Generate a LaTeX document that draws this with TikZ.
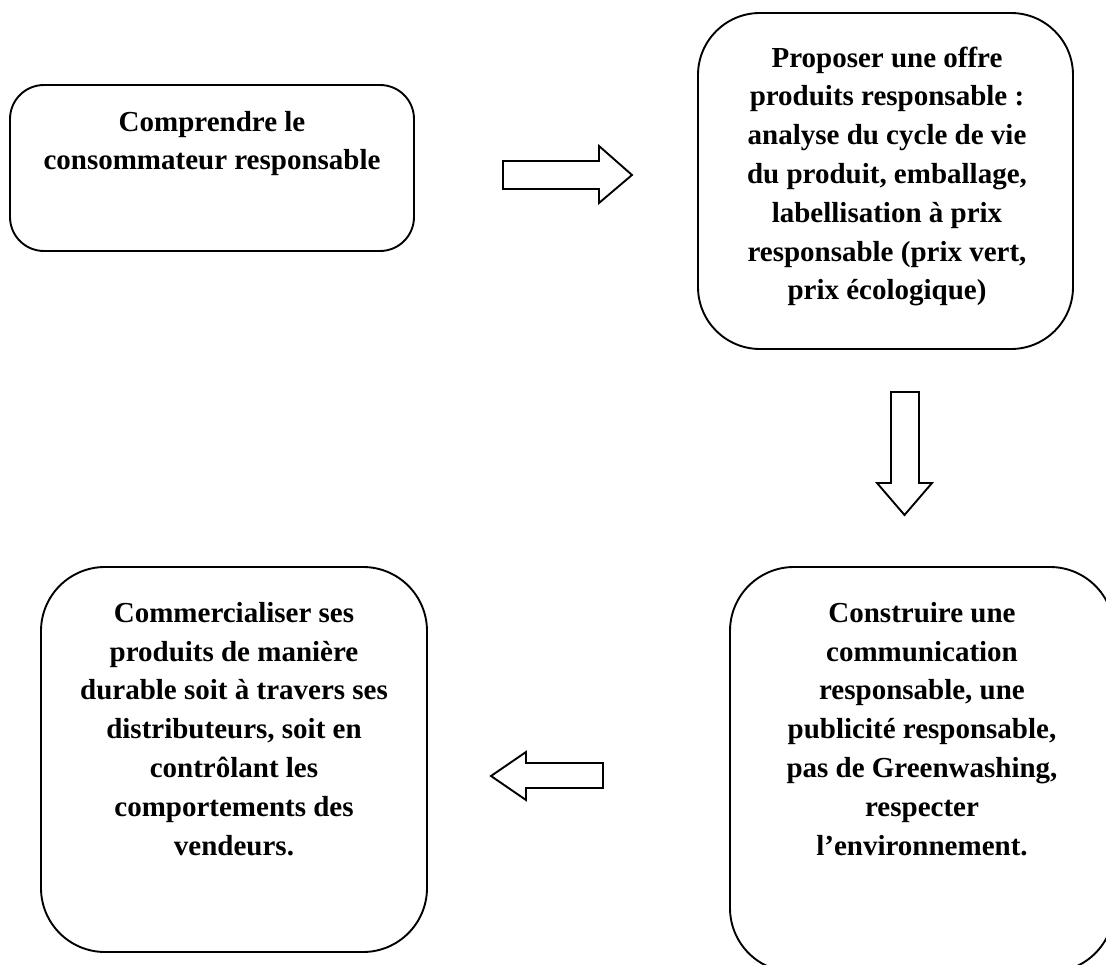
\documentclass[tikz,border=0pt]{standalone}
\usepackage{fontspec}
\setmainfont{Liberation Serif}
\begin{document}
\begin{tikzpicture}[x=1pt,y=-1pt,
  stagebox/.style={draw, line width=1.9pt, inner sep=0pt, fill=none},
  stagetext/.style={font=\fontsize{29}{38.8}\selectfont\bfseries, align=center,
    inner sep=0pt, anchor=base},
  blockarrow/.style={draw, line width=1.9pt, line join=miter, fill=white}]
\useasboundingbox (0,0) rectangle (1106,965);

% rounded frames of the four stages
\node[stagebox, rounded corners=34pt, minimum width=404pt, minimum height=166pt]
  (s1) at (212,168) {};
\node[stagebox, rounded corners=62pt, minimum width=375pt, minimum height=336pt]
  (s2) at (885.5,181) {};
\node[stagebox, rounded corners=64pt, minimum width=384pt, minimum height=405pt]
  (s3) at (922,769.5) {};
\node[stagebox, rounded corners=64pt, minimum width=386pt, minimum height=385pt]
  (s4) at (234,759.5) {};

% stage texts (anchored on the baseline of their last line)
\node[stagetext] (t1) at (212,170) {Comprendre le\\consommateur responsable};
\node[stagetext] (t2) at (887,300) {Proposer une offre\\produits responsable :\\analyse du cycle de vie\\du produit, emballage,\\labellisation à prix\\responsable (prix vert,\\prix écologique)};
\node[stagetext] (t3) at (922,855) {Construire une\\communication\\responsable, une\\publicité responsable,\\pas de Greenwashing,\\respecter\\l’environnement.};
\node[stagetext] (t4) at (234,855) {Commercialiser ses\\produits de manière\\durable soit à travers ses\\distributeurs, soit en\\contrôlant les\\comportements des\\vendeurs.};

% hollow block arrows between the stages
\draw[blockarrow] (503,161) -- (599,161) -- (599,146) -- (632,175) -- (599,203)
  -- (599,189) -- (503,189) -- cycle;
\draw[blockarrow] (891,392) -- (919,392) -- (919,483) -- (932,483) -- (904.5,515)
  -- (877,483) -- (891,483) -- cycle;
\draw[blockarrow] (603,763) -- (526,763) -- (526,752) -- (491,776) -- (526,800)
  -- (526,788) -- (603,788) -- cycle;
\end{tikzpicture}
\end{document}
